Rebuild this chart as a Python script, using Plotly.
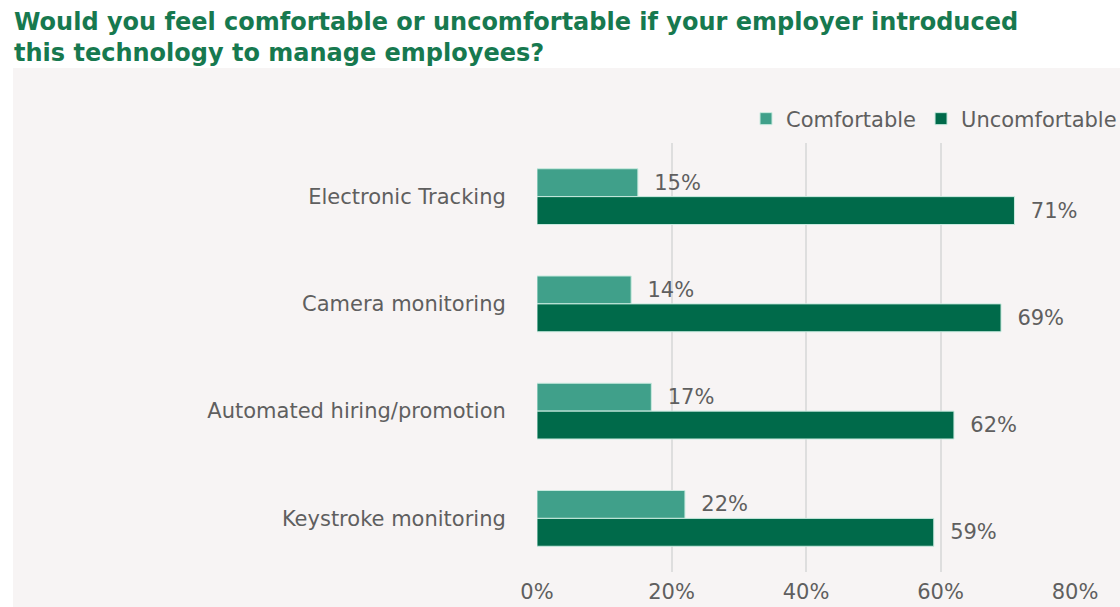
import plotly.graph_objects as go

categories = ["Electronic Tracking", "Camera monitoring", "Automated hiring/promotion", "Keystroke monitoring"]
comfortable = [15, 14, 17, 22]
uncomfortable = [71, 69, 62, 59]
tick_vals = [0, 20, 40, 60, 80]
tick_text = ["0%", "20%", "40%", "60%", "80%"]
title_text = "Would you feel comfortable or uncomfortable if your employer introduced<br>this technology to manage employees?"

GREY = "#5f5f5f"
FONT = "DejaVu Sans"
FS = 21

fig = go.Figure()
fig.add_trace(go.Bar(
    y=categories, x=comfortable, orientation="h", name="Comfortable",
    marker=dict(color="#40a08a", line=dict(color="#c8eadf", width=1)),
    text=[f"{v}%" for v in comfortable], texttemplate="  %{text}",
    textposition="outside", cliponaxis=False, constraintext="none",
    textfont=dict(family=FONT, size=FS, color=GREY),
))
fig.add_trace(go.Bar(
    y=categories, x=uncomfortable, orientation="h", name="Uncomfortable",
    marker=dict(color="#006a4a", line=dict(color="#c8eadf", width=1)),
    text=[f"{v}%" for v in uncomfortable], texttemplate="  %{text}",
    textposition="outside", cliponaxis=False, constraintext="none",
    textfont=dict(family=FONT, size=FS, color=GREY),
))

L, R, T, B = 537, 45, 143, 35
W, H = 1120, 607
pw = W - L - R
ph = H - T - B

def px(x):
    return (x - L) / pw

def py(y):
    return (H - B - y) / ph

fig.add_shape(type="rect", xref="paper", yref="paper",
              x0=px(13), x1=px(1125), y0=py(68), y1=py(612),
              fillcolor="#f7f4f4", line=dict(width=0), layer="below")

fig.add_annotation(text=title_text, xref="paper", yref="paper",
                   x=px(12), y=py(6), xanchor="left", yanchor="top",
                   align="left", showarrow=False,
                   font=dict(family=FONT, size=24, color="#17794f", weight="bold"))

fig.update_layout(
    width=W, height=H,
    margin=dict(l=L, r=R, t=T, b=B, autoexpand=False),
    paper_bgcolor="white", plot_bgcolor="rgba(0,0,0,0)",
    barmode="group", bargap=0.48, bargroupgap=0,
    legend=dict(orientation="h", x=px(1122), xanchor="right",
                y=py(119), yanchor="middle",
                font=dict(family=FONT, size=FS, color=GREY),
                itemwidth=30, traceorder="normal", bgcolor="rgba(0,0,0,0)"),
    xaxis=dict(range=[0, 80], tickvals=tick_vals, ticktext=tick_text,
               showgrid=True, gridcolor="#dedede", gridwidth=2,
               zeroline=False, showline=False, automargin=False,
               ticks="outside", ticklen=1, tickcolor="rgba(0,0,0,0)",
               tickfont=dict(family=FONT, size=FS, color=GREY)),
    yaxis=dict(autorange="reversed", showgrid=False, zeroline=False, showline=False,
               automargin=False,
               ticks="outside", ticklen=26, tickcolor="rgba(0,0,0,0)",
               tickfont=dict(family=FONT, size=FS, color=GREY)),
    font=dict(family=FONT),
)

fig.write_html("out.html")
